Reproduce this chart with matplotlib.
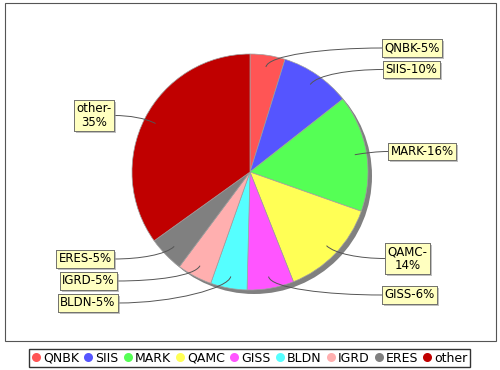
import matplotlib
matplotlib.use('Agg')
import matplotlib.pyplot as plt
import numpy as np
from matplotlib.patches import Rectangle, Circle, PathPatch
from matplotlib.path import Path
from matplotlib.lines import Line2D
from matplotlib import patheffects

plt.rcParams['font.family'] = 'DejaVu Sans'

# data (percent share)
names = ['QNBK', 'SIIS', 'MARK', 'QAMC', 'GISS', 'BLDN', 'IGRD', 'ERES', 'other']
shares = [4.8, 9.6, 16.0, 13.6, 6.4, 5.0, 4.8, 4.9, 34.9]
label_texts = ['QNBK-5%', 'SIIS-10%', 'MARK-16%', 'QAMC-\n14%', 'GISS-6%',
               'BLDN-5%', 'IGRD-5%', 'ERES-5%', 'other-\n35%']
colors = ['#FF5555', '#5555FF', '#55FF55', '#FFFF55', '#FF55FF',
          '#55FFFF', '#FFAFAF', '#808080', '#C00000']

# label box layout (pixel coords, y down): edge x nearest pie, centre y
label_pos = [(382, 48), (383, 69.5), (388, 151.5), (385, 258.5), (382, 295),
             (118, 303), (117, 281), (114, 259), (114, 115.5)]

cx, cy, R = 250, 172, 118

fig = plt.figure(figsize=(5, 3.7), dpi=100)
ax = fig.add_axes([0, 0, 1, 1])

# pie shadow
ax.add_patch(Circle((cx + 4, cy + 4), R, fc='#808080', ec='none'))

wedges, _ = ax.pie(shares, colors=colors, startangle=270, counterclock=True,
                   center=(cx, cy), radius=R, frame=True,
                   wedgeprops=dict(ec='#A0A0A0', lw=0.5))
ax.set_xlim(0, 500)
ax.set_ylim(370, 0)
ax.set_aspect('equal')
ax.axis('off')

# plot area border
ax.add_patch(Rectangle((5, 3), 491, 338, fill=False, ec='#555555', lw=0.8))

for w, txt, (lx, ly) in zip(wedges, label_texts, label_pos):
    th = np.deg2rad((w.theta1 + w.theta2) / 2)
    d = np.array([np.cos(th), np.sin(th)])
    p0 = np.array([cx, cy]) + 0.9 * R * d
    p1 = np.array([cx, cy]) + 1.0 * R * d
    p3 = np.array([lx, ly])
    p2 = np.array([(p1[0] + p3[0]) / 2, ly])
    path = Path([p0, p1, p2, p3], [Path.MOVETO, Path.CURVE4, Path.CURVE4, Path.CURVE4])
    ax.add_patch(PathPatch(path, fc='none', ec='#555555', lw=0.7))
    right = d[0] > 0
    t = ax.text(lx + 2.5 if right else lx - 2.5, ly, txt, fontsize=8.5,
                ha='left' if right else 'right', va='center', multialignment='center',
                linespacing=1.05,
                bbox=dict(boxstyle='square,pad=0.2', fc='#FFFFC0', ec='#666666', lw=0.6))
    t.get_bbox_patch().set_path_effects([
        patheffects.withSimplePatchShadow(offset=(1.5, -1.5), shadow_rgbFace='#979797', alpha=0.6),
        patheffects.Normal()])

handles = [Line2D([], [], ls='none', marker='o', ms=6.5, mfc=c, mec='none') for c in colors]
leg = fig.legend(handles, names, loc='center', bbox_to_anchor=(0.499, 1 - 358 / 370), ncol=9,
                 fontsize=9.0, frameon=True, fancybox=False, edgecolor='black',
                 handlelength=0.7, handletextpad=0.2, columnspacing=0.4,
                 borderpad=0.2, borderaxespad=0)
leg.get_frame().set_linewidth(1.0)

fig.savefig('out.png', dpi=100)
